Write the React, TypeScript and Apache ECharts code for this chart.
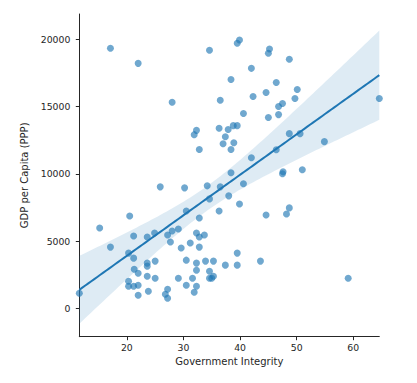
import React, { useEffect, useRef } from "react";
import * as echarts from "echarts";

const govIntegrity = [
  17.1, 22.0, 34.6, 28.0, 38.4, 36.5, 39.5, 39.9, 31.9, 32.3,
  36.3, 37.9, 37.4, 38.8, 37.0, 38.9, 32.8, 38.4, 38.4, 45.2,
  45.0, 48.7, 42.0, 46.4, 44.6, 50.1, 42.3, 49.7, 47.5, 46.8,
  40.6, 45.0, 46.8, 64.6, 39.5, 48.7, 50.6, 54.9, 46.4, 42.0,
  47.5, 47.6, 51.0, 25.9, 30.2, 34.2, 36.5, 34.6, 38.0, 36.3,
  30.5, 32.8, 20.5, 15.2, 17.1, 21.2, 23.6, 24.9, 27.2, 28.0,
  29.1, 27.7, 32.3, 32.8, 33.7, 31.2, 29.6, 32.8, 20.3, 21.2,
  25.0, 23.6, 23.6, 30.5, 32.3, 33.9, 35.3, 37.4, 32.3, 34.6,
  21.3, 22.0, 23.6, 25.0, 29.1, 31.6, 34.6, 35.3, 35.0, 20.3,
  20.3, 21.2, 22.0, 22.0, 23.8, 27.2, 26.8, 27.2, 30.5, 31.9,
  32.3, 11.6, 40.6, 39.9, 44.6, 48.2, 48.7, 39.5, 39.5, 43.6,
  59.1,
];

const gdpPerCapita = [
  19330, 18210, 19180, 15320, 17015, 15470, 19700, 19950, 12910, 13230,
  13380, 13300, 12760, 13580, 12240, 12310, 11810, 11810, 10075, 19280,
  18960, 18510, 17840, 16790, 16045, 16270, 15750, 15600, 15225, 15000,
  14480, 14180, 14400, 15600, 13580, 12985, 12985, 12390, 11790, 11195,
  10000, 10150, 10300, 9030, 8955, 9105, 9030, 8135, 8360, 7240,
  7240, 6715, 6865, 5970, 4550, 5370, 5300, 5600, 5450, 5745,
  5895, 4925, 5600, 5300, 5450, 4850, 4480, 4550, 4105, 3730,
  3510, 3360, 3135, 3580, 3360, 3510, 3510, 3210, 2835, 2760,
  2910, 2610, 2390, 2240, 2240, 2240, 2240, 2390, 2240, 2015,
  1640, 1640, 1715, 970, 1270, 1420, 1045, 745, 1715, 1195,
  1640, 1120, 9255, 7760, 6940, 7015, 7465, 4105, 3210, 3510,
  2240,
];

const xTickValues = [20, 30, 40, 50, 60];
const yTickValues = [0, 5000, 10000, 15000, 20000];
const yLimits = [-2110, 21880];

const xLabel = "Government Integrity";
const yLabel = "GDP per Capita (PPP)";

// OLS fit with a heteroscedasticity-robust (HC3) 95% confidence band
function fitRegression(xs: number[], ys: number[]) {
  const n = xs.length;
  let sx = 0, sxx2 = 0, sy = 0, sxy2 = 0;
  for (let i = 0; i < n; i++) {
    sx += xs[i]; sxx2 += xs[i] * xs[i]; sy += ys[i]; sxy2 += xs[i] * ys[i];
  }
  const det = n * sxx2 - sx * sx;
  const A = [[sxx2 / det, -sx / det], [-sx / det, n / det]];
  const b = (n * sxy2 - sx * sy) / det;
  const a = (sy - b * sx) / n;
  const M = [[0, 0], [0, 0]];
  for (let i = 0; i < n; i++) {
    const x = xs[i];
    const e = ys[i] - (a + b * x);
    const h = A[0][0] + 2 * x * A[0][1] + x * x * A[1][1];
    const w = (e * e) / ((1 - h) * (1 - h));
    M[0][0] += w; M[0][1] += w * x; M[1][0] += w * x; M[1][1] += w * x * x;
  }
  const mul = (P: number[][], Q: number[][]) => [
    [P[0][0] * Q[0][0] + P[0][1] * Q[1][0], P[0][0] * Q[0][1] + P[0][1] * Q[1][1]],
    [P[1][0] * Q[0][0] + P[1][1] * Q[1][0], P[1][0] * Q[0][1] + P[1][1] * Q[1][1]],
  ];
  const V = mul(mul(A, M), A);
  const z = 1.96;
  const xmin = Math.min(...xs);
  const xmax = Math.max(...xs);
  const steps = 100;
  const line: number[][] = [];
  const lower: number[][] = [];
  const upper: number[][] = [];
  for (let k = 0; k <= steps; k++) {
    const x = xmin + ((xmax - xmin) * k) / steps;
    const yhat = a + b * x;
    const se = Math.sqrt(V[0][0] + 2 * x * V[0][1] + x * x * V[1][1]);
    line.push([x, yhat]);
    lower.push([x, yhat - z * se]);
    upper.push([x, yhat + z * se]);
  }
  return { line, lower, upper, xmin, xmax };
}

export default function App() {
  const ref = useRef<HTMLDivElement>(null);
  useEffect(() => {
    if (!ref.current) return;
    const chart = echarts.init(ref.current, undefined, { renderer: "svg" });
    const fit = fitRegression(govIntegrity, gdpPerCapita);
    const textColor = "#262626";
    const font = "DejaVu Sans";
    const blue = "#1f77b4";
    chart.setOption({
      animation: false,
      grid: { left: 79.3, top: 14, width: 300, height: 322.7, containLabel: false },
      xAxis: {
        type: "value",
        min: fit.xmin,
        max: fit.xmax,
        name: xLabel,
        nameLocation: "middle",
        nameGap: 25,
        nameTextStyle: { color: textColor, fontSize: 10, fontFamily: font, verticalAlign: "middle" },
        splitLine: { show: false },
        axisLine: { show: true, onZero: false, lineStyle: { color: textColor, width: 1 } },
        axisTick: { show: true, length: 3.5, lineStyle: { color: textColor }, customValues: xTickValues },
        axisLabel: {
          color: textColor, fontSize: 9.3, fontFamily: font, margin: 6, customValues: xTickValues,
          formatter: (v: number) => String(v),
        },
      },
      yAxis: {
        type: "value",
        min: yLimits[0],
        max: yLimits[1],
        name: yLabel,
        nameLocation: "middle",
        nameGap: 40,
        nameRotate: 90,
        nameTextStyle: { color: textColor, fontSize: 10, fontFamily: font, verticalAlign: "middle" },
        splitLine: { show: false },
        axisLine: { show: true, onZero: false, lineStyle: { color: textColor, width: 1 } },
        axisTick: { show: true, length: 3.5, lineStyle: { color: textColor }, customValues: yTickValues },
        axisLabel: {
          color: textColor, fontSize: 9.3, fontFamily: font, margin: 9, customValues: yTickValues,
          formatter: (v: number) => String(v),
        },
      },
      series: [
        {
          type: "scatter",
          data: govIntegrity.map((x, i) => [x, gdpPerCapita[i]]),
          symbolSize: 7,
          itemStyle: { color: "rgba(31,119,180,0.8)" },
          silent: true,
          z: 2,
        },
        {
          type: "custom",
          data: [[fit.xmin, 0]],
          silent: true,
          z: 3,
          renderItem: (_params: any, api: any) => {
            const pts = fit.upper
              .map((p) => api.coord(p))
              .concat(fit.lower.slice().reverse().map((p) => api.coord(p)));
            return {
              type: "polygon",
              shape: { points: pts },
              style: { fill: "rgba(31,119,180,0.15)", stroke: "none" },
            };
          },
        },
        {
          type: "line",
          data: fit.line,
          symbol: "none",
          lineStyle: { color: blue, width: 2 },
          silent: true,
          z: 4,
        },
      ],
    });
    return () => chart.dispose();
  }, []);
  return (
    <div
      ref={ref}
      style={{ position: "fixed", left: 0, top: 0, width: 417, height: 383, background: "#fff" }}
    />
  );
}
